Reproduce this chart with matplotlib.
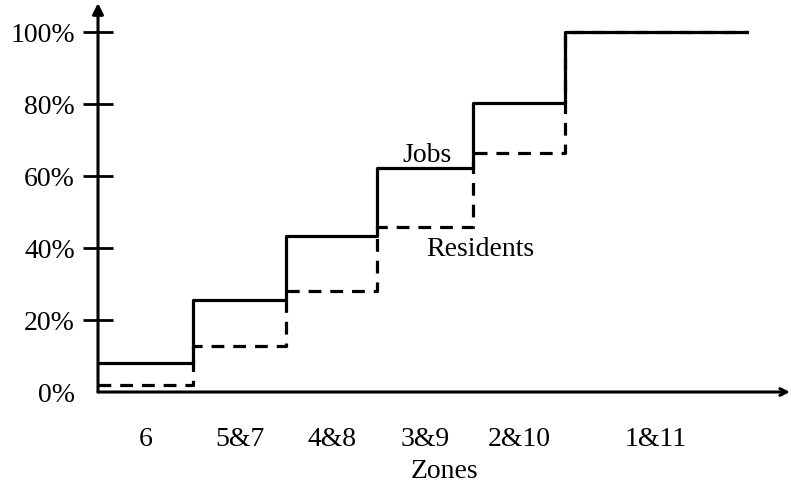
import numpy as np
import matplotlib.pyplot as plt

plt.rcParams['font.family'] = ['Liberation Serif', 'DejaVu Serif']

# zone boundaries along the x axis (zone widths, last group is wider)
zone_edges = [0, 1.02, 2.01, 2.99, 4.01, 5.0, 6.95]
zone_labels = ["6", "5&7", "4&8", "3&9", "2&10", "1&11"]
# cumulative share (%) per zone group
jobs = [8, 25.5, 43.4, 62.1, 80.4, 100]
residents = [2, 12.8, 28, 45.7, 66.5, 100]

fig = plt.figure(figsize=(7.91, 4.86), dpi=100)
W, H = 791, 486
x0, x1 = 98, 790
y0, y1 = 392, 3
ax = fig.add_axes([x0 / W, (H - y0) / H, (x1 - x0) / W, (y0 - y1) / H])

px_per_unit = 93.4
px_per_pct = 3.6
ax.set_xlim(0, (x1 - x0) / px_per_unit)
ax.set_ylim(0, (y0 - y1) / px_per_pct)

def steps(edges, vals):
    xs, ys = [], []
    for i, v in enumerate(vals):
        xs += [edges[i], edges[i + 1]]
        ys += [v, v]
    return xs, ys

rx, ry = steps(zone_edges, residents)
ax.plot(rx, ry, color='black', lw=2.3, ls=(0, (4, 2.8)), clip_on=False)
jx, jy = steps(zone_edges, jobs)
ax.plot(jx, jy, color='black', lw=2.3, clip_on=False)

for s in ax.spines.values():
    s.set_visible(False)

# axes with arrows
ax.annotate('', xy=(1.0, 0), xytext=(0, 0), xycoords='axes fraction',
            arrowprops=dict(arrowstyle='->', lw=2.2, color='black',
                            shrinkA=0, shrinkB=0, mutation_scale=12))
ax.annotate('', xy=(0, 1.0), xytext=(0, 0), xycoords='axes fraction',
            arrowprops=dict(arrowstyle='-|>', lw=2.2, color='black',
                            shrinkA=0, shrinkB=0, mutation_scale=16))

ax.set_yticks([0, 20, 40, 60, 80, 100])
ax.set_yticklabels(["0%", "20%", "40%", "60%", "80%", "100%"], fontsize=20)
ax.tick_params(axis='y', direction='inout', length=22, width=2, pad=5.5)
ax.yaxis.get_major_ticks()[0].tick1line.set_visible(False)

mids = [(zone_edges[i] + zone_edges[i + 1]) / 2 for i in range(len(zone_labels))]
ax.set_xticks(mids)
ax.set_xticklabels(zone_labels, fontsize=20)
ax.tick_params(axis='x', length=0, pad=25)
ax.set_xlabel("Zones", fontsize=20, labelpad=5)

ax.text(3.52, 65.6, "Jobs", fontsize=20, ha='center', va='center')
ax.text(4.09, 39.5, "Residents", fontsize=20, ha='center', va='center')

fig.savefig("out.png", dpi=100)
